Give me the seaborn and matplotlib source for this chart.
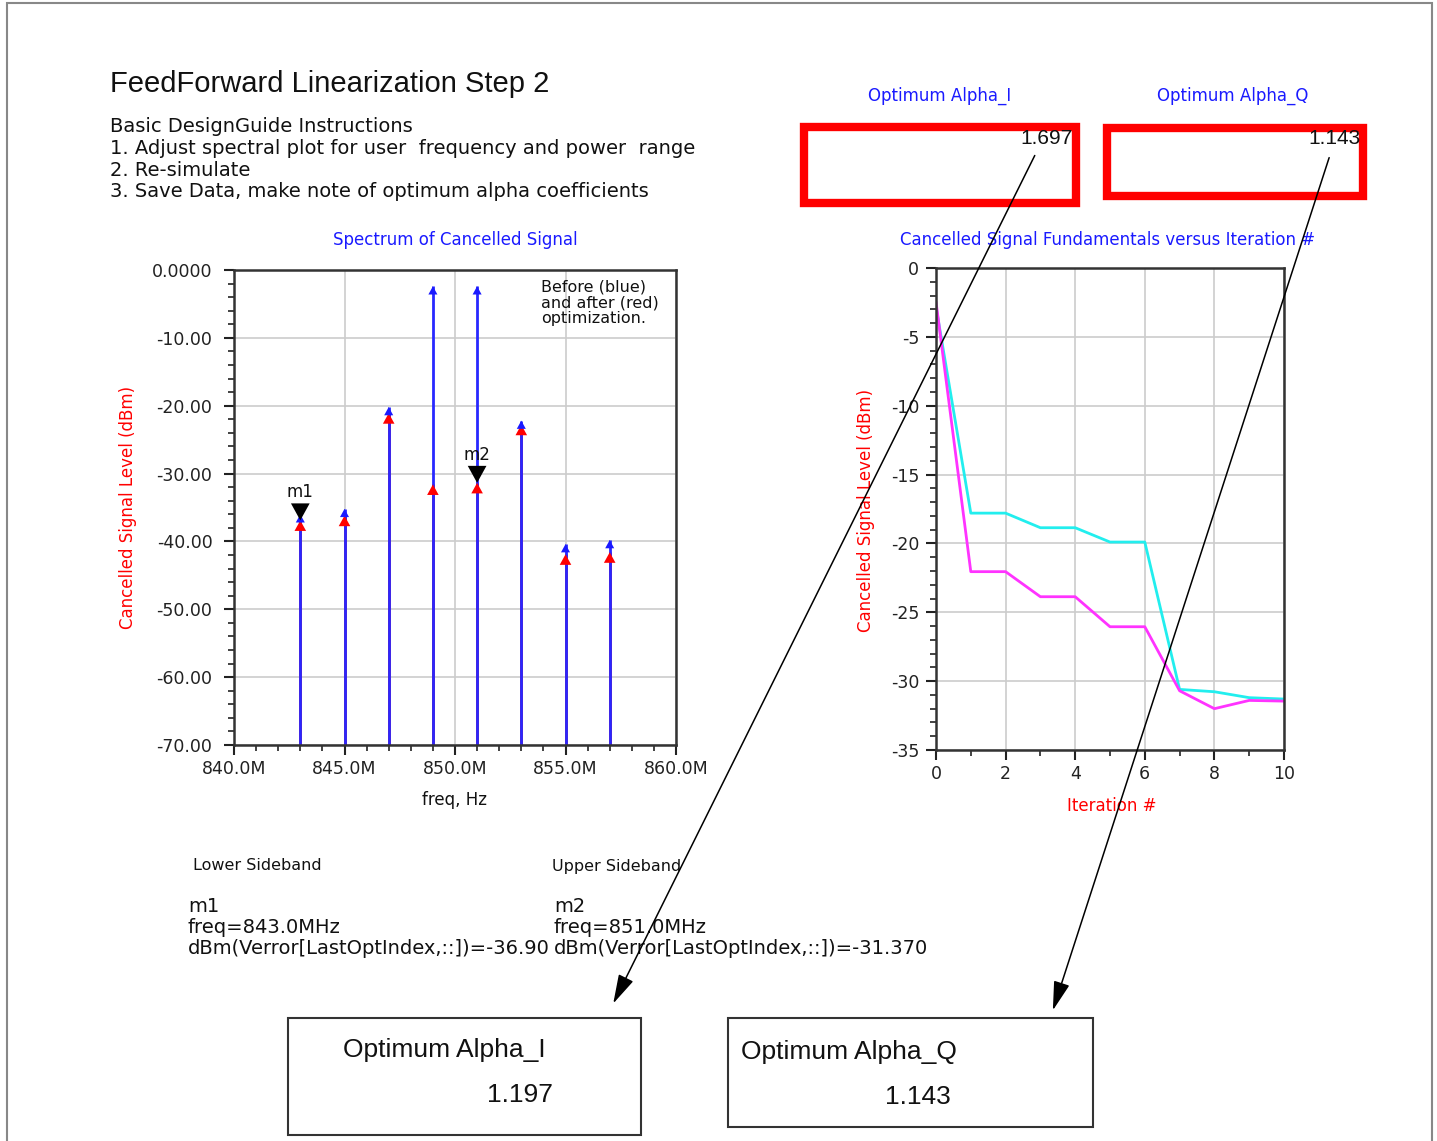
import numpy as np
import pandas as pd
import matplotlib
matplotlib.use("Agg")
import matplotlib.pyplot as plt
import seaborn as sns
from matplotlib.patches import Rectangle, FancyArrowPatch
from matplotlib.path import Path
from matplotlib.ticker import MultipleLocator

# --- data ---
freq_mhz = [843, 845, 847, 849, 851, 853, 855, 857]
before_dbm = [-36.0, -35.2, -20.2, -2.4, -2.4, -22.2, -40.4, -39.8]
after_dbm = [-36.9, -36.2, -21.1, -31.6, -31.37, -22.8, -41.9, -41.6]

marker_names = ["m1", "m2"]
marker_freq = [843, 851]
marker_dbm = [-36.90, -31.370]

iteration = [0, 1, 2, 3, 4, 5, 6, 7, 8, 9, 10]
fund_cyan = [-2.8, -17.8, -17.8, -18.86, -18.86, -19.9, -19.9, -30.6, -30.77, -31.2, -31.3]
fund_magenta = [-2.45, -22.05, -22.05, -23.87, -23.87, -26.05, -26.05, -30.7, -32.0, -31.4, -31.45]

spec_yticks = [0, -10, -20, -30, -40, -50, -60, -70]
spec_ylabels = ["0.0000", "-10.00", "-20.00", "-30.00", "-40.00", "-50.00", "-60.00", "-70.00"]
spec_xticks = [840, 845, 850, 855, 860]
spec_xlabels = ["840.0M", "845.0M", "850.0M", "855.0M", "860.0M"]

alpha_top = ["1.697", "1.143"]
alpha_bottom = ["1.197", "1.143"]

W, H = 1437, 1141
SMALL = "DejaVu Sans"   # the wide little screen font of the original

sns.set_theme(style="white")
plt.rcParams['font.family'] = ['Liberation Sans', 'DejaVu Sans']

fig = plt.figure(figsize=(W / 100, H / 100), dpi=100)


def fx(x):
    return x / W


def fy(y):
    return 1 - y / H


def ftext(x, y, s, **kw):
    kw.setdefault("va", "center")
    kw.setdefault("color", "#111111")
    fig.text(fx(x), fy(y), s, **kw)


def style_axes(ax, pad):
    for sp in ax.spines.values():
        sp.set_visible(True)
        sp.set_color("#333333")
        sp.set_linewidth(1.8)
    ax.tick_params(which="both", direction="out", bottom=True, left=True,
                   top=False, right=False, colors="#222222", labelsize=12.5,
                   labelfontfamily=SMALL)
    ax.tick_params(which="major", length=7, width=1.5)
    ax.tick_params(which="minor", length=4, width=1.2)
    ax.tick_params(axis="y", which="major", pad=pad)
    ax.grid(True, which="major", color="#cccccc", linewidth=1.2)
    ax.set_axisbelow(True)


# triangles with the apex on the data point
tri_up = Path([(0, 0), (-0.55, -1), (0.55, -1), (0, 0)],
              [Path.MOVETO, Path.LINETO, Path.LINETO, Path.CLOSEPOLY])
tri_down = Path([(0, 0), (-0.55, 1), (0.55, 1), (0, 0)],
                [Path.MOVETO, Path.LINETO, Path.LINETO, Path.CLOSEPOLY])

# page frame
fig.add_artist(Rectangle((fx(7), fy(1160)), fx(1432) - fx(7), fy(3) - fy(1160),
                         transform=fig.transFigure, fill=False,
                         edgecolor="#888888", linewidth=1.5))

# -------------------------------
# header text
# -------------------------------
ftext(110, 84, "FeedForward Linearization Step 2", fontsize=21)
instr = ["Basic DesignGuide Instructions",
         "1. Adjust spectral plot for user  frequency and power  range",
         "2. Re-simulate",
         "3. Save Data, make note of optimum alpha coefficients"]
for i, line in enumerate(instr):
    ftext(110, 127 + i * 21.5, line, fontsize=14, family=SMALL)

# -------------------------------
# spectrum plot
# -------------------------------
ax1 = fig.add_axes([fx(234), fy(745), fx(676) - fx(234), fy(270) - fy(745)])
spec = pd.DataFrame({"freq": freq_mhz, "before": before_dbm, "after": after_dbm})
ax1.vlines(spec["freq"], -70, spec["after"], color="red", linewidth=2)
ax1.vlines(spec["freq"], -70, spec["before"], color="#2828ff", linewidth=2)
sns.scatterplot(data=spec, x="freq", y="after", ax=ax1, marker=tri_up, s=230,
                color="red", edgecolor="none", zorder=4)
sns.scatterplot(data=spec, x="freq", y="before", ax=ax1, marker=tri_up, s=140,
                color="#1a1aff", edgecolor="none", zorder=5)
mk = pd.DataFrame({"freq": marker_freq, "dbm": marker_dbm})
sns.scatterplot(data=mk, x="freq", y="dbm", ax=ax1, marker=tri_down, s=600,
                color="black", edgecolor="none", zorder=6)
for name, f, d in zip(marker_names, marker_freq, marker_dbm):
    ax1.annotate(name, (f, d), xytext=(0, 28), textcoords="offset pixels",
                 ha="center", va="center", fontsize=12, family=SMALL, color="#111111")
ax1.set_xlim(840, 860)
ax1.set_ylim(-70, 0)
ax1.set_xticks(spec_xticks, spec_xlabels)
ax1.set_yticks(spec_yticks, spec_ylabels)
ax1.xaxis.set_minor_locator(MultipleLocator(1))
ax1.yaxis.set_minor_locator(MultipleLocator(2))
ax1.set_xlabel("")
ax1.set_ylabel("")
style_axes(ax1, pad=8.5)
ax1.text(0.695, 0.98, "Before (blue)\nand after (red)\noptimization.",
         transform=ax1.transAxes, ha="left", va="top", fontsize=11.5,
         family=SMALL, linespacing=1.05, color="#111111")

ftext(455, 240, "Spectrum of Cancelled Signal", fontsize=12, family=SMALL,
      color="#1a1aff", ha="center")
ftext(455, 800, "freq, Hz", fontsize=12, family=SMALL, ha="center")
ftext(128, 507, "Cancelled Signal Level (dBm)", fontsize=12, family=SMALL,
      color="red", ha="center", rotation=90)

# -------------------------------
# iteration plot
# -------------------------------
ax2 = fig.add_axes([fx(936), fy(750), fx(1284) - fx(936), fy(268) - fy(750)])
it = pd.DataFrame({"iter": iteration, "cyan": fund_cyan, "magenta": fund_magenta})
sns.lineplot(data=it, x="iter", y="cyan", ax=ax2, color="#22eeee", linewidth=2)
sns.lineplot(data=it, x="iter", y="magenta", ax=ax2, color="#ff33ff", linewidth=2)
ax2.set_xlim(0, 10)
ax2.set_ylim(-35, 0)
ax2.set_xticks([0, 2, 4, 6, 8, 10])
ax2.set_yticks([0, -5, -10, -15, -20, -25, -30, -35],
               ["0", "-5", "-10", "-15", "-20", "-25", "-30", "-35"])
ax2.xaxis.set_minor_locator(MultipleLocator(1))
ax2.yaxis.set_minor_locator(MultipleLocator(1))
ax2.set_xlabel("")
ax2.set_ylabel("")
style_axes(ax2, pad=5)

ftext(1108, 240, "Cancelled Signal Fundamentals versus Iteration #", fontsize=12,
      family=SMALL, color="#1a1aff", ha="center")
ftext(1112, 806, "Iteration #", fontsize=12, family=SMALL, color="red", ha="center")
ftext(866, 510, "Cancelled Signal Level (dBm)", fontsize=12, family=SMALL,
      color="red", ha="center", rotation=90)

# -------------------------------
# optimum alpha boxes (top)
# -------------------------------
ftext(940, 96, "Optimum Alpha_I", fontsize=12, family=SMALL, color="#1a1aff", ha="center")
ftext(1233, 96, "Optimum Alpha_Q", fontsize=12, family=SMALL, color="#1a1aff", ha="center")
fig.add_artist(Rectangle((fx(804), fy(203)), fx(1076) - fx(804), fy(127) - fy(203),
                         transform=fig.transFigure, fill=False, edgecolor="red", linewidth=6))
fig.add_artist(Rectangle((fx(1107), fy(196)), fx(1363) - fx(1107), fy(128) - fy(196),
                         transform=fig.transFigure, fill=False, edgecolor="red", linewidth=6))
ftext(1073, 139, alpha_top[0], fontsize=15, ha="right")
ftext(1361, 139, alpha_top[1], fontsize=15, ha="right")

# -------------------------------
# marker readouts
# -------------------------------
ftext(193, 865, "Lower Sideband", fontsize=11.5, family=SMALL)
ftext(552, 867, "Upper Sideband", fontsize=11.5, family=SMALL)
lower = ["m1", "freq=843.0MHz", "dBm(Verror[LastOptIndex,::])=-36.90"]
upper = ["m2", "freq=851.0MHz", "dBm(Verror[LastOptIndex,::])=-31.370"]
for i, (a, b) in enumerate(zip(lower, upper)):
    ftext(188, 907 + i * 20.5, a, fontsize=14, family=SMALL)
    ftext(554, 907 + i * 20.5, b, fontsize=14, family=SMALL,
          bbox=dict(facecolor="white", edgecolor="none", pad=0))

# -------------------------------
# optimum alpha boxes (bottom)
# -------------------------------
fig.add_artist(Rectangle((fx(288), fy(1135)), fx(641) - fx(288), fy(1018) - fy(1135),
                         transform=fig.transFigure, fill=False, edgecolor="#333333", linewidth=1.5))
fig.add_artist(Rectangle((fx(728), fy(1127)), fx(1093) - fx(728), fy(1018) - fy(1127),
                         transform=fig.transFigure, fill=False, edgecolor="#333333", linewidth=1.5))
ftext(343, 1050, "Optimum Alpha_I", fontsize=19)
ftext(520, 1095, alpha_bottom[0], fontsize=19, ha="center")
ftext(741, 1052, "Optimum Alpha_Q", fontsize=19)
ftext(918, 1097, alpha_bottom[1], fontsize=19, ha="center")

# arrows linking the boxes
for (x0, y0), (x1, y1) in [((1036, 153), (612, 1006)), ((1330, 155), (1052, 1013))]:
    fig.add_artist(FancyArrowPatch((fx(x0), fy(y0)), (fx(x1), fy(y1)),
                                   transform=fig.transFigure,
                                   arrowstyle="-|>,head_length=1.8,head_width=0.5",
                                   mutation_scale=10, color="black", linewidth=1.1,
                                   zorder=10))

fig.savefig("out.png", dpi=100)
